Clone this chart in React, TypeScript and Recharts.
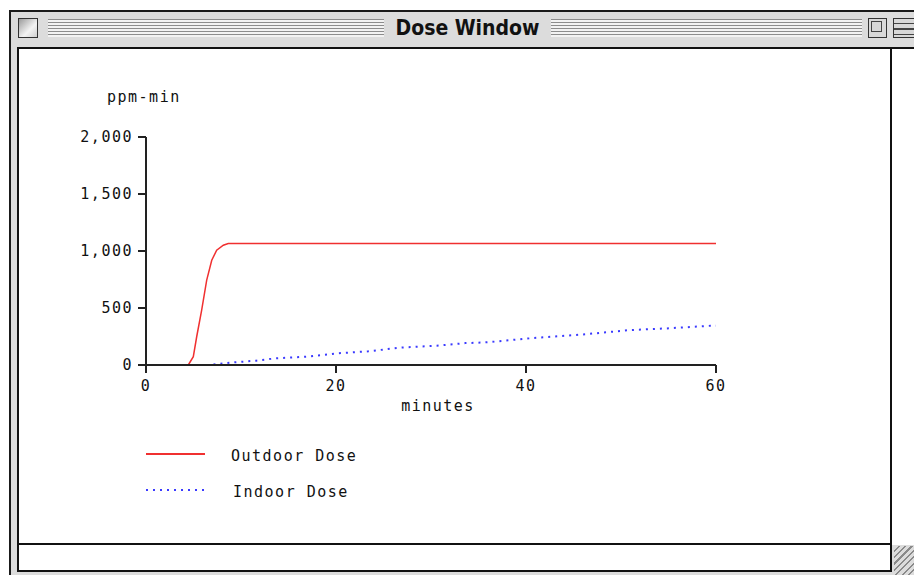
import { LineChart, Line, XAxis, YAxis, Legend } from 'recharts'

const outdoorMinutes = [4.45, 4.98, 5.34, 5.86, 6.39, 6.92, 7.44, 8.14, 8.66, 60]
const outdoorDose = [0, 73, 250, 482, 744, 919, 1007, 1051, 1066, 1066]

const indoorMinutes = [7.1, 9.4, 11.6, 13.6, 16.9, 20.1, 23.4, 26.7, 30.6, 33.6, 35.9, 40.4, 46.4, 50.9, 54.8, 59.4, 60]
const indoorDose = [5, 24, 38, 58, 73, 102, 120, 152, 169, 192, 199, 234, 271, 306, 321, 344, 345]

const seriesNames = ['Outdoor Dose', 'Indoor Dose']
const xTicks = [0, 20, 40, 60]
const yTicks = [0, 500, 1000, 1500, 2000]

const MONO = "'DejaVu Sans Mono', monospace"
const AXIS = '#222'

const outdoorData = outdoorMinutes.map((m, i) => ({ minutes: m, dose: outdoorDose[i] }))
const indoorData = indoorMinutes.map((m, i) => ({ minutes: m, dose: indoorDose[i] }))

const stripes = 'repeating-linear-gradient(to bottom, #8c8c8c 0px, #8c8c8c 1px, #f2f2f2 1px, #f2f2f2 3px)'

function WindowChrome() {
  return (
    <>
      {/* outer frame */}
      <div style={{ position: 'absolute', left: 9, top: 10, width: 920, height: 580, background: '#dcdcdc', borderLeft: '2px solid #1a1a1a', borderTop: '2px solid #1a1a1a', boxSizing: 'border-box' }} />
      {/* close box */}
      <div style={{ position: 'absolute', left: 18, top: 18, width: 18, height: 18, border: '1px solid #333', background: 'linear-gradient(135deg, #9a9a9a, #f4f4f4 60%, #cfcfcf)' }} />
      {/* stripes */}
      <div style={{ position: 'absolute', left: 48, top: 19, width: 336, height: 18, background: stripes }} />
      <div style={{ position: 'absolute', left: 551, top: 19, width: 311, height: 18, background: stripes }} />
      <div style={{ position: 'absolute', left: 384, top: 14, width: 167, height: 28, textAlign: 'center', fontFamily: "'DejaVu Sans Condensed', 'DejaVu Sans', sans-serif", fontStretch: 'condensed', fontWeight: 'bold', fontSize: 21, lineHeight: '28px', color: '#111' }}>
        Dose Window
      </div>
      {/* zoom box */}
      <div style={{ position: 'absolute', left: 868, top: 18, width: 17, height: 18, border: '1px solid #333', background: '#d8d8d8' }}>
        <div style={{ position: 'absolute', left: 2, top: 2, width: 9, height: 9, border: '1.5px solid #444' }} />
      </div>
      {/* collapse box */}
      <div style={{ position: 'absolute', left: 893, top: 18, width: 24, height: 18, border: '1px solid #333', background: 'repeating-linear-gradient(to bottom, #d8d8d8 0px, #d8d8d8 4px, #444 4px, #444 5.5px)' }} />
      {/* content */}
      <div style={{ position: 'absolute', left: 17, top: 47, width: 875, height: 498, background: '#fff', border: '2px solid #111', boxSizing: 'border-box' }} />
      {/* right scroll area */}
      <div style={{ position: 'absolute', left: 892, top: 47, width: 30, height: 498, background: '#fff', borderTop: '2px solid #111', boxSizing: 'border-box' }} />
      {/* bottom strip */}
      <div style={{ position: 'absolute', left: 17, top: 543, width: 875, height: 29, background: '#fff', border: '2px solid #111', boxSizing: 'border-box' }} />
      {/* grow box */}
      <div style={{ position: 'absolute', left: 894, top: 546, width: 24, height: 30, background: 'repeating-linear-gradient(135deg, #dcdcdc 0px, #dcdcdc 3px, #8a8a8a 3px, #8a8a8a 4.5px)' }} />
    </>
  )
}

function LegendContent({ payload }: any) {
  const rows = [...(payload || [])].sort((a: any, b: any) => seriesNames.indexOf(a.value) - seriesNames.indexOf(b.value))
  return (
    <svg width={300} height={80}>
      {rows.map((entry: any, i: number) => {
        const y = 24 + i * 36
        const dash = entry.payload?.strokeDasharray
        return (
          <g key={entry.value}>
            <line x1={6} x2={65} y1={y} y2={y} stroke={entry.color} strokeWidth={2} strokeDasharray={dash ? '2 5' : undefined} />
            <text x={i === 0 ? 91 : 93} y={y + 7} fontFamily={MONO} fontSize={15} letterSpacing={1.5} fill="#111">
              {entry.value}
            </text>
          </g>
        )
      })}
    </svg>
  )
}

export default function App() {
  return (
    <div style={{ position: 'absolute', left: 0, top: 0, width: 914, height: 575, overflow: 'hidden', background: '#fff' }}>
      <WindowChrome />
      <div style={{ position: 'absolute', left: 0, top: 0 }}>
        <LineChart width={914} height={575} margin={{ top: 137, right: 198, bottom: 100, left: 86 }}>
          <XAxis
            dataKey="minutes"
            type="number"
            domain={[0, 60]}
            ticks={xTicks}
            allowDuplicatedCategory={false}
            height={30}
            tickSize={8}
            tickMargin={7}
            axisLine={{ stroke: AXIS, strokeWidth: 2 }}
            tickLine={{ stroke: AXIS, strokeWidth: 2 }}
            tick={{ fontFamily: MONO, fontSize: 15, fill: '#111', letterSpacing: 1.5 }}
            label={{
              content: ({ viewBox }: any) => (
                <text x={viewBox.x + 292} y={viewBox.y + 46} textAnchor="middle" fontFamily={MONO} fontSize={15} letterSpacing={1.5} fill="#111">
                  minutes
                </text>
              ),
            }}
          />
          <YAxis
            dataKey="dose"
            type="number"
            domain={[0, 2000]}
            ticks={yTicks}
            width={60}
            tickSize={8}
            tickMargin={5}
            tickFormatter={(v: number) => v.toLocaleString('en-US')}
            axisLine={{ stroke: AXIS, strokeWidth: 2 }}
            tickLine={{ stroke: AXIS, strokeWidth: 2 }}
            tick={{ fontFamily: MONO, fontSize: 15, fill: '#111', letterSpacing: 1.5 }}
            label={{
              content: ({ viewBox }: any) => (
                <text x={viewBox.x + 21} y={viewBox.y - 35} fontFamily={MONO} fontSize={15} letterSpacing={1.5} fill="#111">
                  ppm-min
                </text>
              ),
            }}
          />
          <Line
            data={outdoorData}
            dataKey="dose"
            name="Outdoor Dose"
            type="linear"
            stroke="#f03030"
            strokeWidth={1.5}
            dot={false}
            isAnimationActive={false}
          />
          <Line
            data={indoorData}
            dataKey="dose"
            name="Indoor Dose"
            type="linear"
            stroke="#3a3aff"
            strokeWidth={2}
            strokeDasharray="2 5"
            dot={false}
            isAnimationActive={false}
          />
          <Legend
            content={<LegendContent />}
            wrapperStyle={{ position: 'absolute', left: 140, top: 430, width: 300, height: 80 }}
          />
        </LineChart>
      </div>
    </div>
  )
}
